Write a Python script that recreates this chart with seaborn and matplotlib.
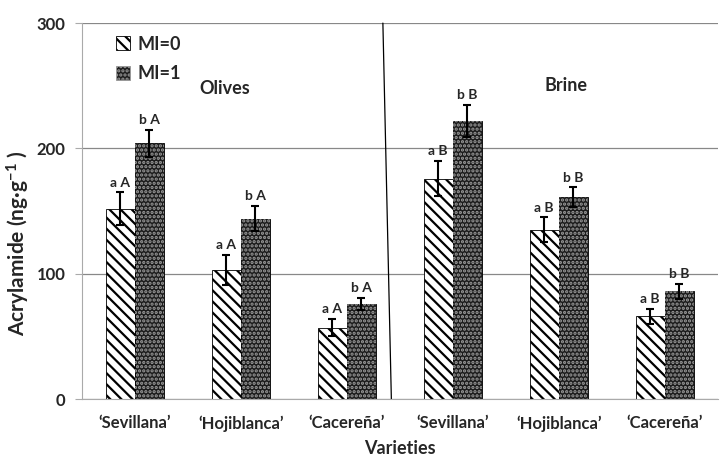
import matplotlib
matplotlib.use("Agg")
import matplotlib.pyplot as plt
import matplotlib.patches as mpatches
import pandas as pd
import seaborn as sns

# data
groups = ["Olives", "Olives", "Olives", "Brine", "Brine", "Brine"]
varieties = ["\u2018Sevillana\u2019", "\u2018Hojiblanca\u2019", "\u2018Cacere\u00f1a\u2019",
             "\u2018Sevillana\u2019", "\u2018Hojiblanca\u2019", "\u2018Cacere\u00f1a\u2019"]
mi0_values = [152, 103, 57, 176, 135, 66]
mi0_errors = [13, 12, 7, 14, 10, 6]
mi1_values = [204, 144, 76, 222, 161, 86]
mi1_errors = [11, 10, 5, 13, 8, 6]
mi0_letters = ["a A", "a A", "a A", "a B", "a B", "a B"]
mi1_letters = ["b A", "b A", "b A", "b B", "b B", "b B"]
series = ["MI=0", "MI=1"]

keys = [f"{g} {v}" for g, v in zip(groups, varieties)]
df = pd.DataFrame({
    "key": keys * 2,
    "mi": [series[0]] * 6 + [series[1]] * 6,
    "value": mi0_values + mi1_values,
    "err": mi0_errors + mi1_errors,
    "letter": mi0_letters + mi1_letters,
})

DARK = "#1c1c1c"
DOTS = "#9c9c9c"

sns.set_style("white")
plt.rcParams["font.family"] = ["Lato", "DejaVu Sans"]
plt.rcParams["font.weight"] = "bold"
plt.rcParams["hatch.linewidth"] = 1.6

fig = plt.figure(figsize=(7.25, 4.62), dpi=100)
ax = fig.add_axes([0.113, 0.136, 0.877, 0.814])

sns.barplot(data=df, x="key", y="value", hue="mi", order=keys, hue_order=series,
            width=0.55, errorbar=None, palette=["white", DARK],
            edgecolor="black", linewidth=0.6, legend=False, ax=ax)


def dress(bar, kind):
    # diagonal stripes for MI=0, light dots on dark fill for MI=1
    if kind == 0:
        bar.set_hatch("\\\\\\")
    else:
        ax.add_patch(mpatches.Rectangle(bar.get_xy(), bar.get_width(), bar.get_height(),
                                        fill=False, hatch="....", edgecolor=DOTS,
                                        linewidth=0, zorder=bar.get_zorder() + 0.1))


for k, (cont, s) in enumerate(zip(ax.containers, series)):
    sub = df[df["mi"] == s].set_index("key").loc[keys]
    for bar, (val, err, lab) in zip(cont, sub[["value", "err", "letter"]].values):
        dress(bar, k)
        cx = bar.get_x() + bar.get_width() / 2
        ax.errorbar(cx, val, yerr=err, fmt="none", ecolor="black",
                    elinewidth=1.5, capsize=3, capthick=1.5, zorder=5)
        ax.text(cx, val + err + 3, lab, ha="center", va="bottom",
                fontsize=10, fontweight="bold")

ax.set_ylim(0, 300)
ax.set_xlim(-0.5, 5.5)
ax.set_yticks([0, 100, 200, 300])
ax.yaxis.grid(True, color="#888888", linewidth=0.9)
ax.set_axisbelow(True)
for side in ["top", "right"]:
    ax.spines[side].set_visible(False)
ax.spines["left"].set_color("#aaaaaa")
ax.spines["bottom"].set_color("#aaaaaa")
ax.tick_params(axis="y", left=True, length=5, color="#aaaaaa", labelsize=12, pad=7)
ax.tick_params(axis="x", bottom=False, labelsize=12, pad=8)
ax.set_xticks(range(len(keys)))
ax.set_xticklabels(varieties, fontweight="bold")
for t in ax.get_yticklabels():
    t.set_fontweight("bold")

ax.set_xlabel("Varieties", fontsize=13, fontweight="bold", labelpad=6)
ax.set_ylabel("Acrylamide (ng\u00b7g$\\mathregular{^{-1}}$ )", fontsize=15, fontweight="bold")
ax.yaxis.set_label_coords(-0.079, 0.415)

# divider between olives and brine
ax.plot([2.34, 2.42], [300, 0], color="black", linewidth=0.9, clip_on=False)

ax.text(0.85, 248, "Olives", fontsize=13, fontweight="bold", ha="center", va="center")
ax.text(4.07, 250, "Brine", fontsize=13, fontweight="bold", ha="center", va="center")

handles = [mpatches.Patch(facecolor="white", edgecolor="black", hatch="\\\\\\", linewidth=0.6),
           mpatches.Patch(facecolor=DARK, edgecolor=DOTS, hatch="....", linewidth=0.6)]
ax.legend(handles, series, loc="upper left", bbox_to_anchor=(0.028, 1.01),
          frameon=False, prop={"weight": "bold", "size": 13},
          handlelength=0.8, handleheight=0.8, handletextpad=0.4, labelspacing=0.7)

fig.savefig("out.png", dpi=100)
